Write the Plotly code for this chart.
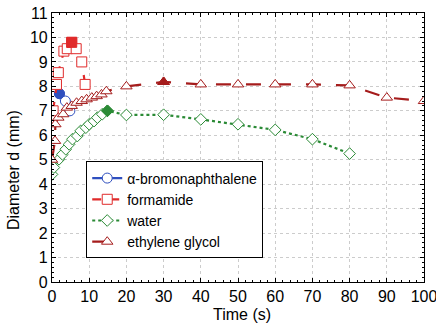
import plotly.graph_objects as go

# alpha-bromonaphthalene
t_bromo = [2.0, 3.6, 4.8]
d_bromo = [7.7, 7.4, 7.0]
# formamide
t_form = [0.3, 1.2, 1.7, 3.2, 4.1, 5.3, 6.5, 8.0, 8.9]
d_form = [7.0, 8.08, 8.56, 9.44, 9.54, 9.8, 9.54, 9.0, 8.08]
# water
t_water = [0.0, 0.5, 1.9, 2.8, 3.7, 4.6, 5.5, 6.8, 7.7, 9.1, 10.0, 11.3, 12.2, 13.5, 14.9,
           20, 30, 40, 50, 60, 70, 80]
d_water = [4.4, 4.68, 5.02, 5.22, 5.43, 5.63, 5.84, 5.97, 6.18, 6.31, 6.45, 6.58, 6.72, 6.86, 7.0,
           6.83, 6.84, 6.65, 6.45, 6.22, 5.84, 5.25]
# ethylene glycol
t_eg = [0.0, 0.8, 0.9, 1.7, 3.0, 4.0, 5.3, 6.6, 8.0, 9.3, 10.7, 12.0, 13.3, 14.6,
        20, 30, 40, 50, 60, 70, 80, 90, 100]
d_eg = [5.0, 5.77, 6.45, 6.72, 6.86, 7.13, 7.2, 7.33, 7.4, 7.47, 7.54, 7.6, 7.67, 7.8,
        8.0, 8.18, 8.08, 8.08, 8.08, 8.08, 8.04, 7.54, 7.4]

x_ticks = [0, 10, 20, 30, 40, 50, 60, 70, 80, 90, 100]
y_ticks = list(range(0, 12))

FONT = "Arial, Liberation Sans, sans-serif"

fig = go.Figure()
series = [
    ("α-bromonaphthalene", t_bromo, d_bromo, "#2f4fbf", "circle", "solid", 10),
    ("formamide", t_form, d_form, "#e02a2a", "square", "dash", 10),
    ("water", t_water, d_water, "#2a8a35", "diamond", "dot", 9),
    ("ethylene glycol", t_eg, d_eg, "#a51c1c", "triangle-up", "longdash", 10),
]
for name, xs, ys, col, sym, dash, size in series:
    fig.add_trace(go.Scatter(
        x=xs, y=ys, name=name, mode="lines+markers",
        line=dict(color=col, width=2.2, dash=dash),
        marker=dict(symbol=sym, size=size, color="white",
                    line=dict(color=col, width=1)),
    ))
    i = ys.index(max(ys))
    fig.add_trace(go.Scatter(
        x=[xs[i]], y=[ys[i]], mode="markers", showlegend=False,
        marker=dict(symbol=sym, size=size, color=col, line=dict(color=col, width=1)),
    ))

axis_common = dict(
    showline=True, linecolor="black", linewidth=1.2, mirror="ticks",
    ticks="inside", ticklen=4, tickcolor="black", automargin=False,
    showgrid=True, gridcolor="#cccccc", griddash="dot", gridwidth=1,
    zeroline=False, tickfont=dict(family=FONT, size=16, color="black"),
    ticklabeloverflow="allow",
    minor=dict(ticks="inside", ticklen=2, tickcolor="black", showgrid=False),
)
fig.update_xaxes(range=[0, 100], tickvals=x_ticks, **axis_common)
fig.update_yaxes(range=[0, 11], tickvals=y_ticks, **axis_common)
fig.update_xaxes(minor=dict(dtick=2))
fig.update_yaxes(minor=dict(dtick=0.2))

fig.add_annotation(text="Time (s)", xref="paper", yref="paper", x=0.51, y=0,
                   yshift=-32, xanchor="center", yanchor="middle", showarrow=False,
                   font=dict(family=FONT, size=16, color="black"))
fig.add_annotation(text="Diameter d (mm)", xref="paper", yref="paper", x=0, y=0.416,
                   xshift=-39, xanchor="center", yanchor="middle", showarrow=False,
                   textangle=-90, font=dict(family=FONT, size=16, color="black"))

fig.update_layout(
    width=436, height=329,
    margin=dict(l=52, r=12, t=13, b=47),
    paper_bgcolor="white", plot_bgcolor="white",
    legend=dict(x=0.092, y=0.448, xanchor="left", yanchor="top",
                bgcolor="white", bordercolor="black", borderwidth=1,
                font=dict(family=FONT, size=14, color="black"),
                tracegroupgap=0, itemwidth=30),
)
fig.write_html("out.html", post_script="document.body.style.margin='0';",
               config={"displayModeBar": False})
